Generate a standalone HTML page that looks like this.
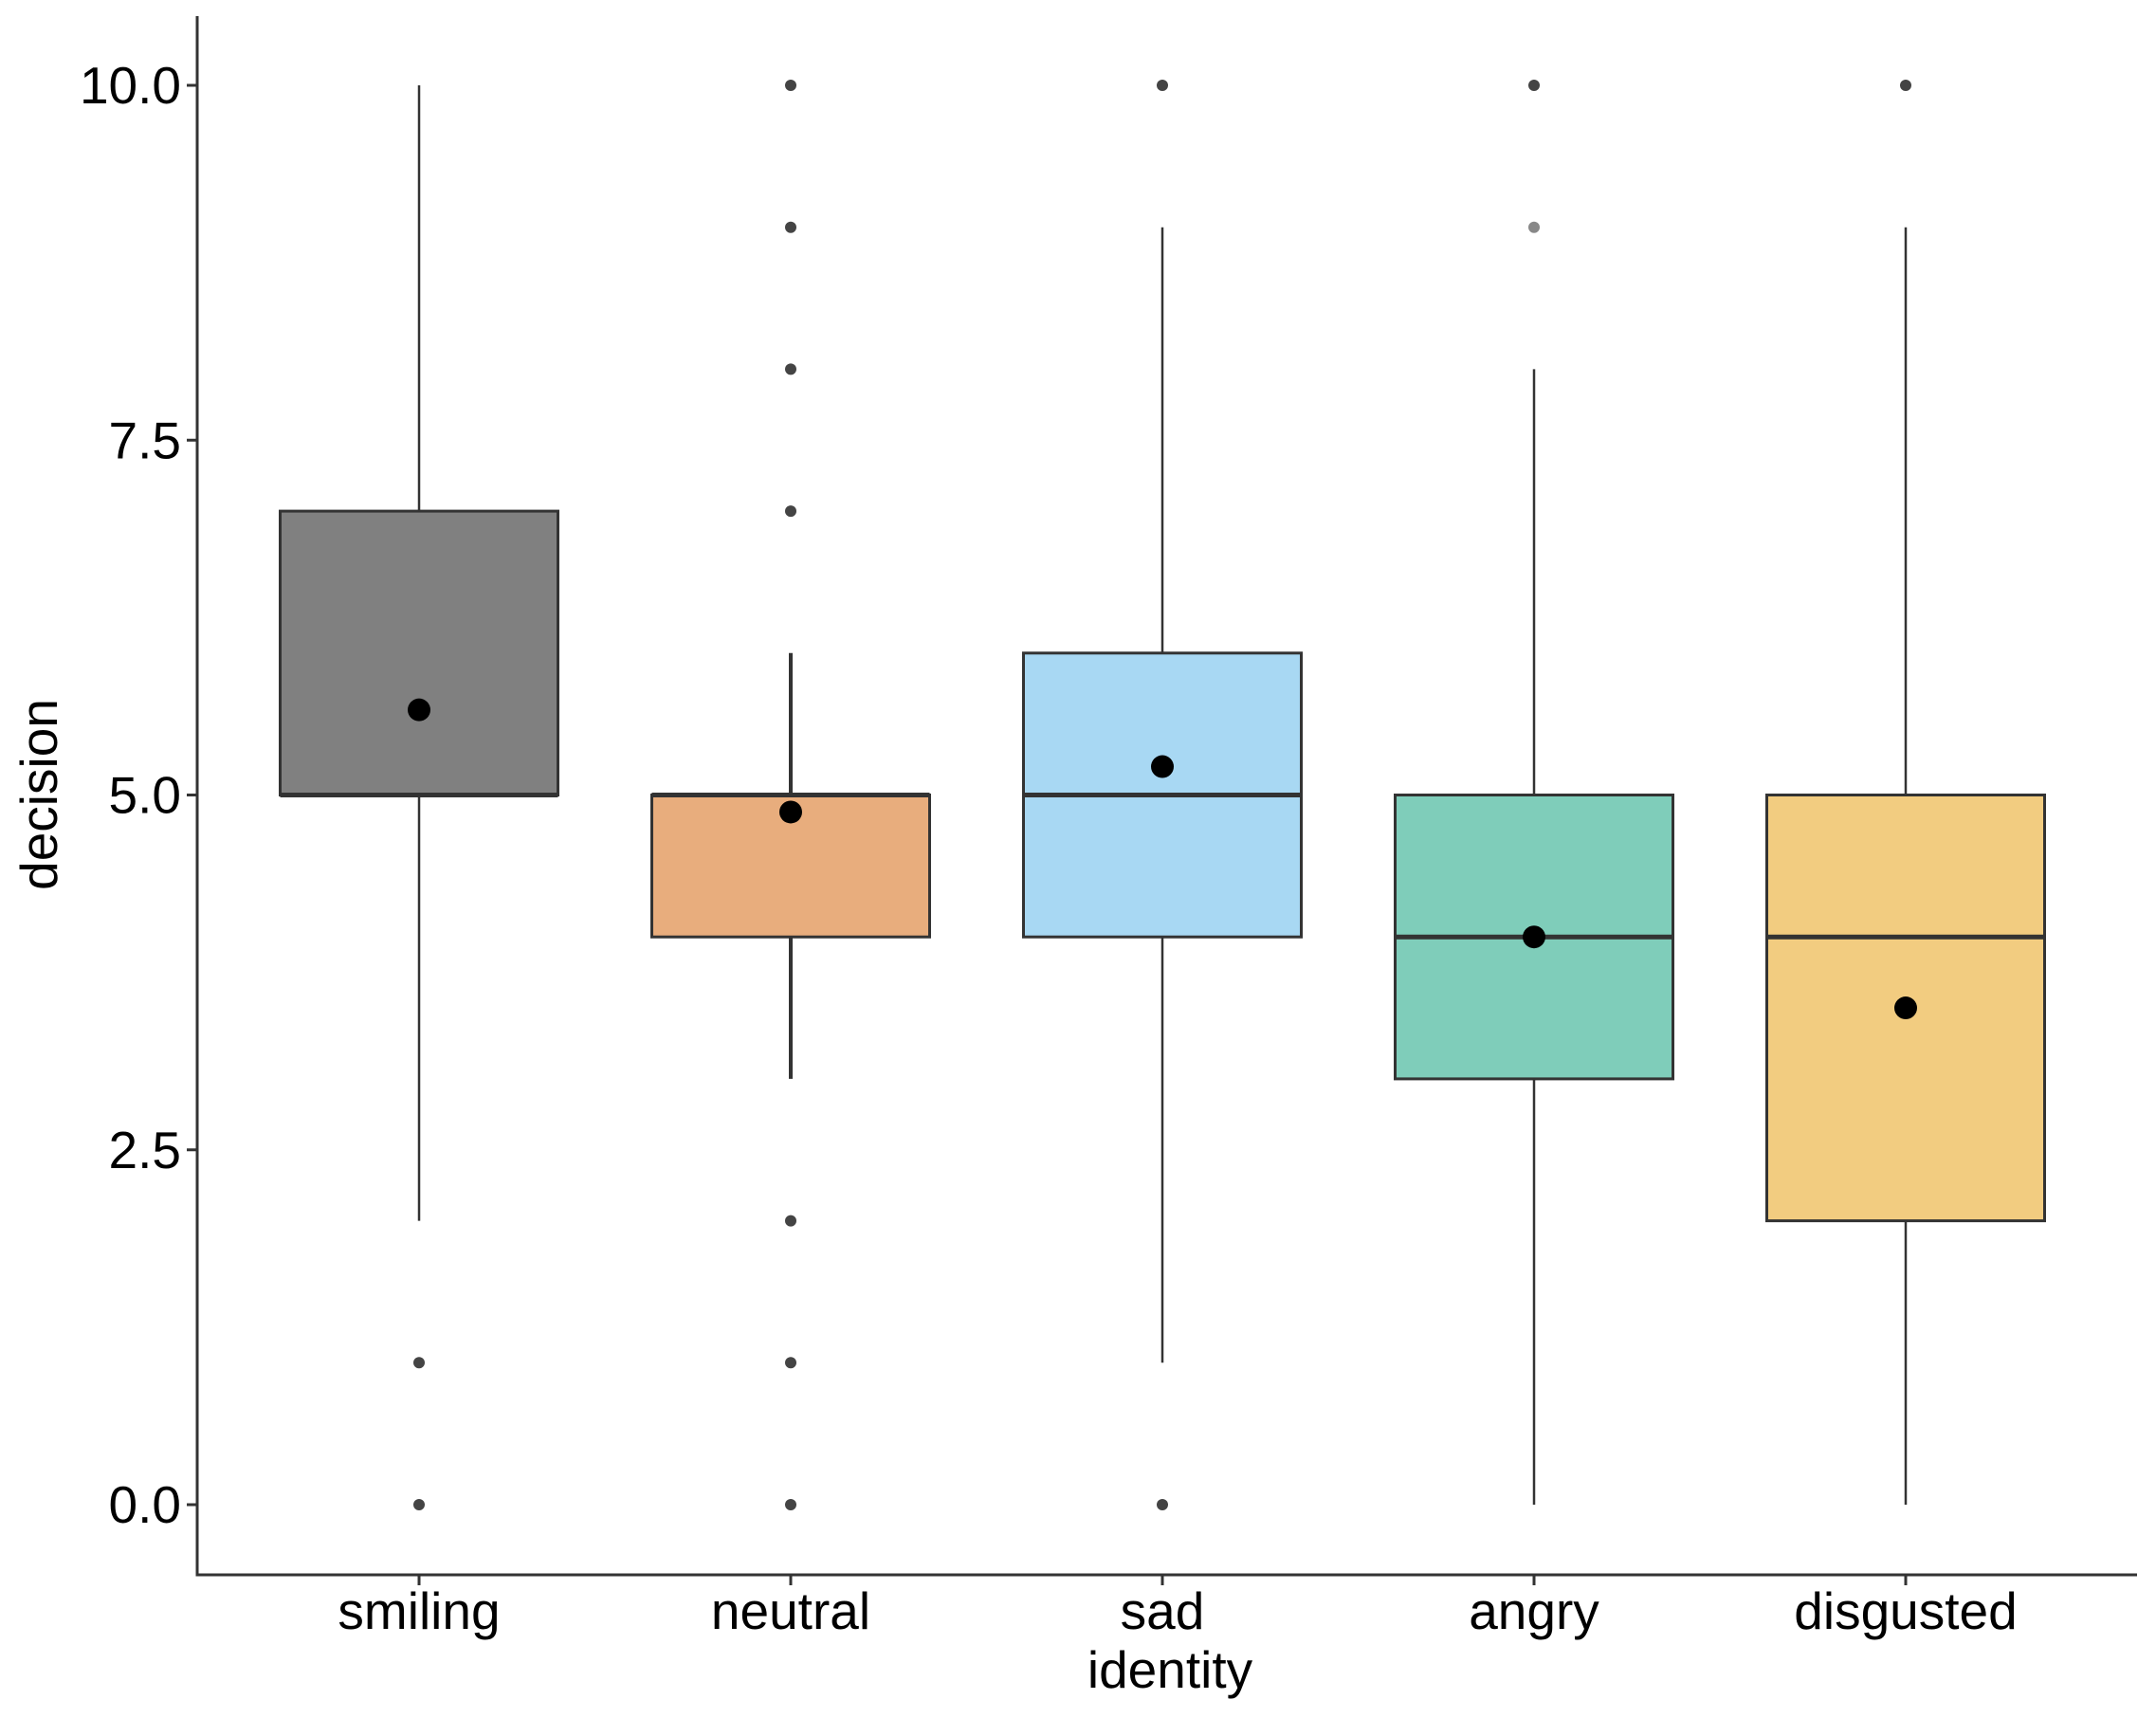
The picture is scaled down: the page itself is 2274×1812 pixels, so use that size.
<!DOCTYPE html>
<html><head><meta charset="utf-8"><style>
html,body{margin:0;padding:0;background:#fff}
svg{display:block}
text{font-family:"Liberation Sans",Arial,sans-serif}
</style></head><body>
<svg id="chart" width="2274" height="1812" viewBox="0 0 2274 1812" xmlns="http://www.w3.org/2000/svg">
<g id="plot"></g>
</svg>
<script>
const categories = ["smiling","neutral","sad","angry","disgusted"];
const q1 = [5,4,4,3,2];
const medians = [5,5,5,4,4];
const q3 = [7,5,6,5,5];
const whiskerLow = [2,3,1,0,0];
const whiskerHigh = [10,6,9,8,9];
const means = [5.6,4.88,5.2,4.0,3.5];
const outliers = [[1,0],[10,9,8,7,2,1,0],[10,0],[10,9],[10]];
const colors = ["#808080","#E8AD7D","#A8D8F3","#7FCDBA","#F2CC80"];
const yTicks = [0,2.5,5,7.5,10];
const yTickLabels = ["0.0","2.5","5.0","7.5","10.0"];

const NS = "http://www.w3.org/2000/svg";
const g = document.getElementById('plot');
const yScale = v => 1587 - v * 149.7;
const xScale = i => 442 + i * 392;
const halfW = 146.5;
function mk(tag, attrs, parent){
  const e = document.createElementNS(NS, tag);
  for (const k in attrs) e.setAttribute(k, attrs[k]);
  (parent||g).appendChild(e);
  return e;
}
let e = mk('line',{x1:208,y1:17,x2:208,y2:1662,stroke:'#333','stroke-width':3});


e = mk('line',{x1:206.5,y1:1661,x2:2254,y2:1661,stroke:'#333','stroke-width':3});



yTicks.forEach((v,i)=>{
  const y = yScale(v);
  let t = mk('line',{x1:197,y1:y,x2:208,y2:y,stroke:'#333','stroke-width':3});
  
  
  let l = mk('text',{x:191,y:y+19,'text-anchor':'end','font-size':55,fill:'#000'});
  l.textContent = yTickLabels[i];
  
  
});

categories.forEach((c,i)=>{
  const x = xScale(i);
  const grp = mk('g',{});
  
  
  const sw = i===1 ? 4 : 2.5;
  let w1 = mk('line',{x1:x,y1:yScale(whiskerHigh[i]),x2:x,y2:yScale(q3[i]),stroke:'#333','stroke-width':sw},grp);
  
  
  let w2 = mk('line',{x1:x,y1:yScale(q1[i]),x2:x,y2:yScale(whiskerLow[i]),stroke:'#333','stroke-width':sw},grp);
  
  
  let r = mk('rect',{x:x-halfW,y:yScale(q3[i]),width:halfW*2,height:Math.max(0.01,yScale(q1[i])-yScale(q3[i])),fill:colors[i],stroke:'#333','stroke-width':3},grp);
  
  
  let m = mk('line',{x1:x-halfW,y1:yScale(medians[i]),x2:x+halfW,y2:yScale(medians[i]),stroke:'#333','stroke-width':5},grp);
  
  
  outliers[i].forEach(v=>{
    let o = mk('circle',{cx:x,cy:yScale(v),r:6,fill:(i===3&&v===9)?'#888':'#444'},grp);
    
    
  });
  let mn = mk('circle',{cx:x,cy:yScale(means[i]),r:12,fill:'#000'},grp);
  
  
  let tk = mk('line',{x1:x,y1:1661,x2:x,y2:1672,stroke:'#333','stroke-width':3});
  
  
  let lb = mk('text',{x:x,y:1718,'text-anchor':'middle','font-size':55,fill:'#000'});
  lb.textContent = c;
  
  
});

let xt = mk('text',{x:1234,y:1780,'text-anchor':'middle','font-size':55,fill:'#000'});
xt.textContent = 'identity';


let yt = mk('text',{x:0,y:0,'text-anchor':'middle','font-size':55,fill:'#000',transform:'translate(60,838) rotate(-90)'});
yt.textContent = 'decision';


</script>
</body></html>
